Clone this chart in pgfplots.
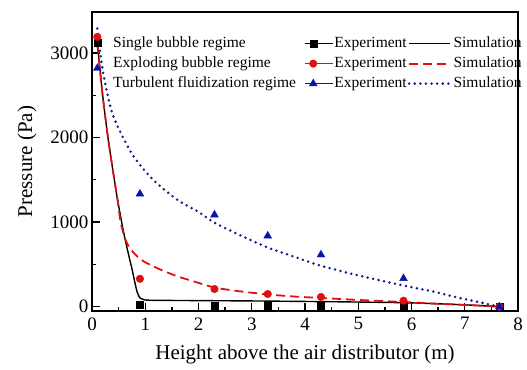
\documentclass[border=0pt]{standalone}
\usepackage{pgfplots}
\pgfplotsset{compat=1.18}
\usepackage{fontspec}
\setmainfont{Liberation Serif}
\usetikzlibrary{calc}
\definecolor{myred}{RGB}{225,15,15}
\definecolor{myblue}{RGB}{10,20,170}
\definecolor{dotblue}{RGB}{25,25,140}
\pgfplotsset{
  mklegend/.style={legend image code/.code={\path (0pt,0pt) -- (28pt,0pt); \draw[##1] plot coordinates {(8pt,0pt)};}},
  lnlegend/.style={legend image code/.code={\draw[##1] (0pt,0pt) -- (41pt,0pt);}},
  dotsty/.style={dotblue, line width=2.8pt, line cap=round, dash pattern=on 0pt off 5.6pt},
  dashsty/.style={myred, line width=1.8pt, dash pattern=on 9pt off 5pt},
}
\begin{document}
\begin{tikzpicture}
\begin{axis}[
  scale only axis, width=426pt, height=299pt,
  xmin=0, xmax=8, ymin=-51, ymax=3485,
  xtick={0,1,...,8}, ytick={0,1000,2000,3000},
  minor x tick num=1, minor y tick num=1,
  tick align=inside, tick pos=left,
  major tick length=8pt, minor tick length=4pt,
  axis line style={line width=1.6pt},
  every tick/.style={line width=1.3pt, black},
  /pgf/number format/assume math mode=true,
  /pgf/number format/1000 sep={},
  ticklabel style={font=\fontsize{19}{21}\selectfont},
  xticklabel style={yshift=-3pt},
  xlabel={Height above the air distributor (m)},
  ylabel={Pressure (Pa)},
  label style={font=\fontsize{21}{23}\selectfont},
  xlabel style={yshift=-8pt},
  ylabel style={yshift=7pt},
  legend columns=3,
  legend style={draw=none, fill=none, at={(axis cs:0.376,3208)}, anchor=north west,
    font=\fontsize{15.5}{17}\selectfont, row sep=4pt, inner sep=0pt,
    nodes={inner sep=1pt, text height=11pt, text depth=3pt, anchor=west},
    /tikz/column 2/.style={column sep=8pt},
    /tikz/column 4/.style={column sep=0pt},
    /tikz/column 5/.style={column sep=1pt}},
]
% legend entries
\addlegendimage{empty legend}\addlegendentry{Single bubble regime}
\addlegendimage{only marks, mark=square*, black, mark size=3.5pt, mklegend}\addlegendentry{Experiment}
\addlegendimage{black, line width=1.4pt, lnlegend}\addlegendentry{Simulation}
\addlegendimage{empty legend}\addlegendentry{Exploding bubble regime}
\addlegendimage{only marks, mark=*, myred, mark size=3.8pt, mklegend}\addlegendentry{Experiment}
\addlegendimage{dashsty, lnlegend}\addlegendentry{Simulation}
\addlegendimage{empty legend}\addlegendentry{Turbulent fluidization regime}
\addlegendimage{only marks, mark=triangle*, myblue, mark size=4.5pt, mklegend}\addlegendentry{Experiment}
\addlegendimage{dotsty, lnlegend}\addlegendentry{Simulation}

% simulations
\addplot[black, line width=1.4pt, smooth, tension=0.4, forget plot] coordinates {
(0.1,3120)(0.2,2500)(0.3,2000)(0.4,1580)(0.48,1263)(0.6,860)(0.7,580)(0.75,450)(0.8,300)(0.85,170)(0.9,105)(0.97,85)(1.1,76)(2,72)(3,68)(4,62)(5,55)(6,45)(7,22)(7.65,0)};
\addplot[dashsty, smooth, tension=0.4, forget plot] coordinates {
(0.1,3100)(0.2,2500)(0.3,2000)(0.4,1580)(0.48,1263)(0.54,990)(0.62,810)(0.7,700)(0.85,594)(1.0,525)(1.29,437)(1.6,360)(1.91,299)(2.31,225)(2.8,180)(3.3,145)(3.8,120)(4.3,103)(5,80)(5.85,55)(6.5,35)(7.2,15)(7.65,0)};
\addplot[dotsty, smooth, forget plot] coordinates {
(0.1,3290)(0.2,2800)(0.36,2330)(0.54,2055)(0.79,1770)(1.15,1500)(1.6,1265)(2.0,1120)(2.31,990)(2.8,840)(3.3,700)(3.8,590)(4.3,484)(5.0,370)(5.85,250)(6.4,180)(6.88,106)(7.3,50)(7.63,0)};

% experiments
\addplot[only marks, mark=square*, black, mark size=3.5pt, forget plot] coordinates {
(0.1,3120)(0.9,20)(2.3,12)(3.3,12)(4.3,12)(5.85,12)(7.65,0)};
\addplot[only marks, mark=*, myred, mark size=3.8pt, forget plot] coordinates {
(0.1,3190)(0.9,330)(2.3,209)(3.3,150)(4.3,115)(5.85,71)(7.65,0)};
\addplot[only marks, mark=triangle*, myblue, mark size=4.5pt, forget plot] coordinates {
(0.1,2820)(0.9,1334)(2.3,1086)(3.3,838)(4.3,614)(5.85,334)(7.65,0)};
\end{axis}
\useasboundingbox ($(current axis.south west)+(-92pt,-58pt)$) rectangle ($(current axis.north east)+(9pt,12pt)$);
\end{tikzpicture}
\end{document}
